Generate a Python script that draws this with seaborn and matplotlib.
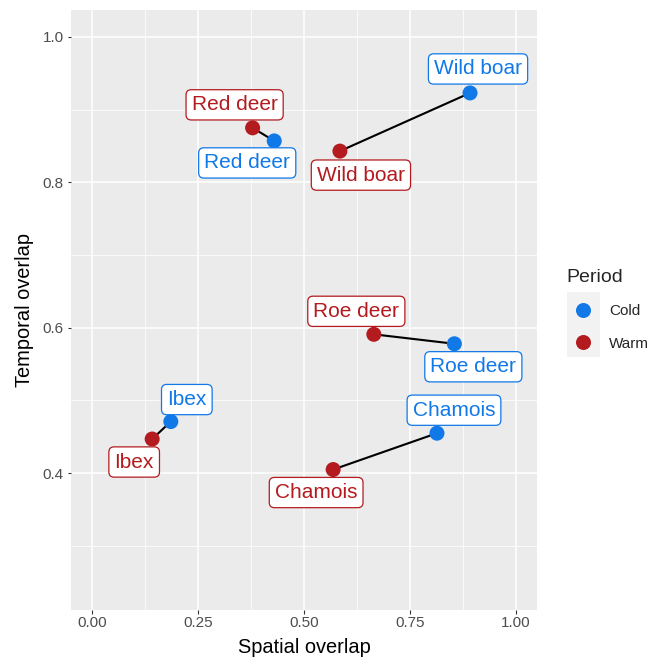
import matplotlib
matplotlib.use("Agg")
import matplotlib.pyplot as plt
from matplotlib.patches import Rectangle
from matplotlib.lines import Line2D
import seaborn as sns
import pandas as pd

# ---- data ----
species = ["Wild boar", "Red deer", "Roe deer", "Ibex", "Chamois"]
cold_spatial = [0.892, 0.430, 0.855, 0.186, 0.814]
cold_temporal = [0.923, 0.857, 0.578, 0.471, 0.455]
warm_spatial = [0.585, 0.379, 0.665, 0.142, 0.569]
warm_temporal = [0.843, 0.875, 0.591, 0.447, 0.405]
periods = ["Cold", "Warm"]
x_ticks = [0.00, 0.25, 0.50, 0.75, 1.00]
x_tick_labels = ["0.00", "0.25", "0.50", "0.75", "1.00"]
y_ticks = [0.4, 0.6, 0.8, 1.0]
y_tick_labels = ["0.4", "0.6", "0.8", "1.0"]

df = pd.concat([
    pd.DataFrame({"Species": species, "Spatial": cold_spatial,
                  "Temporal": cold_temporal, "Period": "Cold"}),
    pd.DataFrame({"Species": species, "Spatial": warm_spatial,
                  "Temporal": warm_temporal, "Period": "Warm"}),
], ignore_index=True)

# ---- style ----
palette = {"Cold": "#1178E8", "Warm": "#B31B1F"}
# label offsets (pixels, right/down positive)
label_offset_px = {
    ("Wild boar", "Cold"): (8, -24), ("Wild boar", "Warm"): (21, 24),
    ("Red deer", "Cold"): (-27, 22), ("Red deer", "Warm"): (-18, -23),
    ("Roe deer", "Cold"): (19, 23), ("Roe deer", "Warm"): (-17.5, -23),
    ("Ibex", "Cold"): (16, -22), ("Ibex", "Warm"): (-18, 23),
    ("Chamois", "Cold"): (17, -23), ("Chamois", "Warm"): (-17, 23),
}

sns.set_theme(style="darkgrid")
plt.rcParams["font.family"] = ["Liberation Sans", "DejaVu Sans"]

DPI = 100
W, H = 654, 659
fig = plt.figure(figsize=(W / DPI, H / DPI), dpi=DPI)
fig.patch.set_facecolor("white")
ax = fig.add_axes([70.8 / W, 1 - 609.5 / H, (537 - 70.8) / W, (609.5 - 9.7) / H])
ax.set_facecolor("#EBEBEB")

px2pt = 72.0 / DPI

sns.lineplot(data=df, x="Spatial", y="Temporal", units="Species", estimator=None,
             sort=False, color="black", lw=2.1 * px2pt, ax=ax, legend=False, zorder=2)
sns.scatterplot(data=df, x="Spatial", y="Temporal", hue="Period", hue_order=periods,
                palette=palette, s=(15 * px2pt) ** 2, edgecolor="none", linewidth=0,
                ax=ax, legend=False, zorder=3)

for _, r in df.iterrows():
    dx, dy = label_offset_px[(r["Species"], r["Period"])]
    c = palette[r["Period"]]
    ax.annotate(r["Species"], xy=(r["Spatial"], r["Temporal"]),
                xytext=(dx * px2pt, -dy * px2pt), textcoords="offset points",
                ha="center", va="center", color=c, fontsize=15,
                bbox=dict(boxstyle="round,pad=0.27,rounding_size=0.25",
                          fc="white", ec=c, lw=0.9), zorder=4)

ax.set_xlim(-0.05, 1.05)
ax.set_ylim(0.2125, 1.0375)
ax.set_xticks(x_ticks)
ax.set_xticklabels(x_tick_labels)
ax.set_yticks(y_ticks)
ax.set_yticklabels(y_tick_labels)
ax.set_xticks([0.125, 0.375, 0.625, 0.875], minor=True)
ax.set_yticks([0.3, 0.5, 0.7, 0.9], minor=True)
ax.grid(which="major", color="white", lw=1.5 * px2pt)
ax.grid(which="minor", color="white", lw=0.75 * px2pt)
ax.set_axisbelow(True)
for s in ax.spines.values():
    s.set_visible(False)
ax.tick_params(axis="both", which="major", length=3.5 * px2pt, width=1.1 * px2pt,
               color="#333333", labelcolor="#4D4D4D", labelsize=11, pad=2.5,
               bottom=True, left=True)
ax.tick_params(axis="both", which="minor", length=0, bottom=False, left=False)
ax.set_xlabel("Spatial overlap", fontsize=14.4, color="black", labelpad=5.5)
ax.set_ylabel("Temporal overlap", fontsize=14.4, color="black", labelpad=6)

# ---- legend ----
fig.patches.append(Rectangle((567 / W, 1 - 357 / H), 33 / W, 65 / H,
                             transform=fig.transFigure, fc="#F2F2F2", ec="none",
                             zorder=0))
handles = [Line2D([], [], marker="o", ls="none", markersize=15 * px2pt,
                  markerfacecolor=palette[p], markeredgecolor="none") for p in periods]
leg = fig.legend(handles, periods, title="Period", loc="upper left",
                 bbox_to_anchor=(562 / W, 1 - 264 / H), frameon=False,
                 fontsize=11, title_fontsize=14, alignment="left",
                 handlelength=2.15, handletextpad=0.65, labelspacing=1.21,
                 borderpad=0.3, borderaxespad=0)

fig.savefig("out.png", dpi=DPI)
